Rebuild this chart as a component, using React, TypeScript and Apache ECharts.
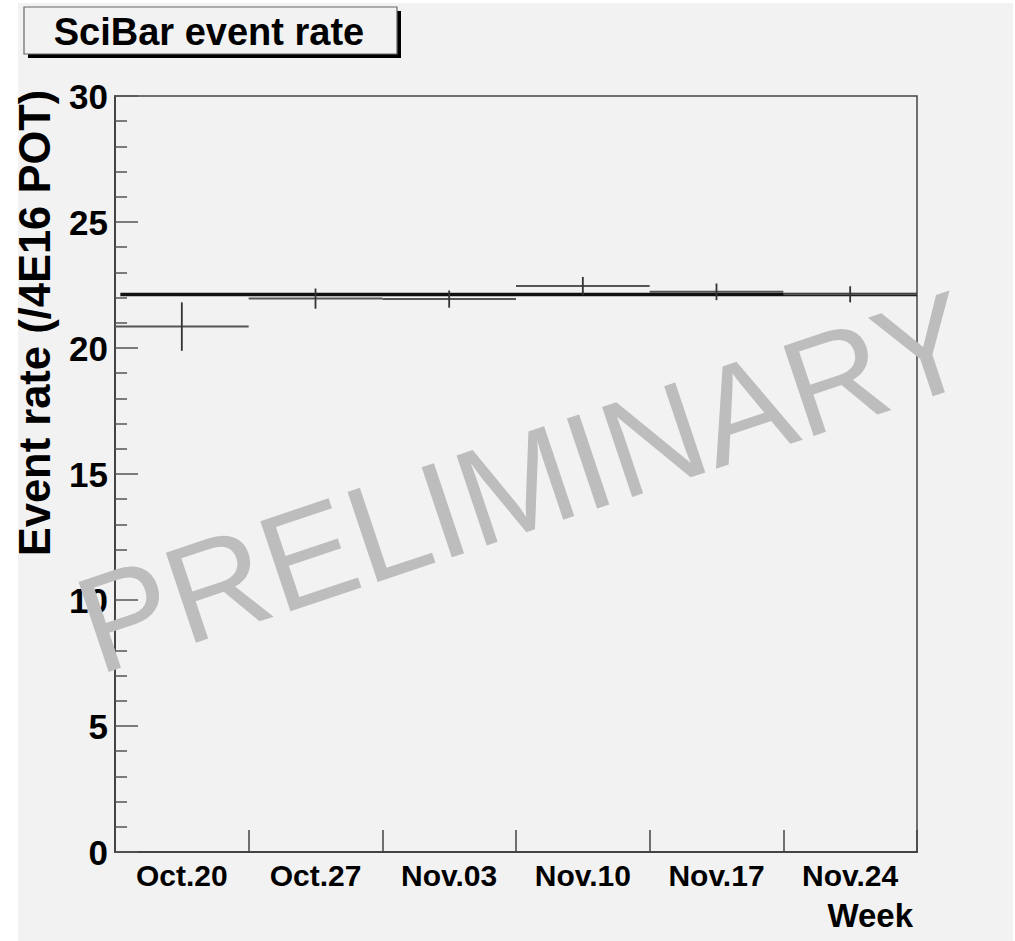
import React, { useEffect, useRef } from "react";
import * as echarts from "echarts";

const weeks = ["Oct.20", "Oct.27", "Nov.03", "Nov.10", "Nov.17", "Nov.24"];
const rates = [20.85, 21.96, 21.94, 22.46, 22.23, 22.13];
const errors = [0.96, 0.4, 0.34, 0.36, 0.33, 0.32];
const fitValue = 22.12;
const fitRange = [0.04, 6];
const yTicks = { min: 0, max: 30, interval: 5 };

const FONT = "'Liberation Sans', Arial, Helvetica, sans-serif";

export default function App() {
  const ref = useRef<HTMLDivElement>(null);
  useEffect(() => {
    document.body.style.margin = "0";
    const chart = echarts.init(ref.current!, null, { renderer: "svg" });
    const pointData = weeks.map((_, i) => [i, rates[i], errors[i]]);
    chart.setOption({
      animation: false,
      backgroundColor: "#ffffff",
      grid: {
        left: 115,
        top: 96,
        right: 98,
        bottom: 89,
        show: true,
        borderColor: "#444",
        borderWidth: 1.5,
        backgroundColor: "transparent",
        containLabel: false,
      },
      xAxis: {
        type: "category",
        data: weeks,
        boundaryGap: true,
        axisLine: { show: true, lineStyle: { color: "#444", width: 2 } },
        axisTick: { show: true, inside: true, length: 22, alignWithLabel: false, lineStyle: { color: "#444", width: 1.5 } },
        axisLabel: { color: "#000", fontSize: 30, fontWeight: "bold", fontFamily: FONT, margin: 8 },
        splitLine: { show: false },
      },
      yAxis: {
        type: "value",
        min: yTicks.min,
        max: yTicks.max,
        interval: yTicks.interval,
        axisLine: { show: true, lineStyle: { color: "#444", width: 2 } },
        axisTick: { show: true, inside: true, length: 23, lineStyle: { color: "#555", width: 1.5 } },
        minorTick: { show: true, splitNumber: 5, length: 12, lineStyle: { color: "#555", width: 1.5 } },
        axisLabel: { color: "#000", fontSize: 35, fontWeight: "bold", fontFamily: FONT, margin: 7 },
        splitLine: { show: false },
        minorSplitLine: { show: false },
      },
      series: [
        {
          type: "custom",
          name: "fit",
          data: [[0, fitValue, fitRange[0], fitRange[1]]],
          encode: { x: 0, y: 1 },
          z: 3,
          renderItem: (params: any, api: any) => {
            const v = api.value(1);
            const bw = api.size([1, 0])[0];
            const c = api.coord([0, v]);
            const x0 = c[0] - bw / 2;
            return {
              type: "line",
              shape: { x1: x0 + api.value(2) * bw, y1: c[1], x2: x0 + api.value(3) * bw, y2: c[1] },
              style: { stroke: "#111", lineWidth: 3.5 },
            };
          },
        },
        {
          type: "custom",
          name: "rate",
          data: pointData,
          encode: { x: 0, y: 1 },
          z: 4,
          renderItem: (params: any, api: any) => {
            const i = api.value(0);
            const y = api.value(1);
            const e = api.value(2);
            const c = api.coord([i, y]);
            const bw = api.size([1, 0])[0];
            const top = api.coord([i, y + e])[1];
            const bot = api.coord([i, y - e])[1];
            return {
              type: "group",
              children: [
                { type: "line", shape: { x1: c[0] - bw / 2, y1: c[1], x2: c[0] + bw / 2, y2: c[1] }, style: { stroke: "#555", lineWidth: 2 } },
                { type: "line", shape: { x1: c[0], y1: top, x2: c[0], y2: bot }, style: { stroke: "#333", lineWidth: 1.8 } },
              ],
            };
          },
        },
      ],
      graphic: [
        { type: "rect", z: -10, silent: true, shape: { x: 18, y: 3, width: 995, height: 940 }, style: { fill: "#f2f2f2" } },
        { type: "rect", z: 10, shape: { x: 28, y: 11, width: 373, height: 47 }, style: { fill: "#000" } },
        { type: "rect", z: 11, shape: { x: 24, y: 7, width: 373, height: 47 }, style: { fill: "#f2f2f2", stroke: "#666", lineWidth: 1.2 } },
        {
          type: "text", z: 12, x: 209, y: 32,
          style: { text: "SciBar event rate", fontSize: 38, fontWeight: "bold", fontFamily: FONT, fill: "#000", align: "center", verticalAlign: "middle" },
        },
        {
          type: "text", z: 12, x: 35, y: 323, rotation: Math.PI / 2,
          style: { text: "Event rate (/4E16 POT)", fontSize: 43.5, fontWeight: "bold", fontFamily: FONT, fill: "#000", align: "center", verticalAlign: "middle" },
        },
        {
          type: "text", z: 12, x: 913, y: 915,
          style: { text: "Week", fontSize: 33, fontWeight: "bold", fontFamily: FONT, fill: "#000", align: "right", verticalAlign: "middle" },
        },
        {
          type: "text", z: 20, x: 525, y: 482, rotation: 0.323,
          style: { text: "PRELIMINARY", fontSize: 138, fontFamily: FONT, fill: "#bdbdbd", align: "center", verticalAlign: "middle" },
        },
      ],
    });
    return () => chart.dispose();
  }, []);
  return <div ref={ref} style={{ width: 1015, height: 941 }} />;
}
